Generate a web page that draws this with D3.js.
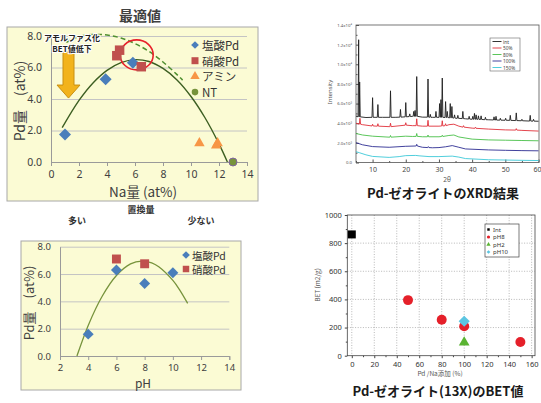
<!DOCTYPE html>
<html><head><meta charset="utf-8">
<script src="https://cdn.jsdelivr.net/npm/d3@7"></script>
<style>
body{margin:0;background:#fff;}
svg text{font-family:"Noto Sans CJK JP","Noto Sans",sans-serif;}
</style></head>
<body><svg id="c" width="541" height="403"></svg>
<script>
// ---------- Pd loading vs Na content ----------
const naHcl   = [[1.0,1.75],[3.9,5.25],[5.85,6.3]];
const naNit   = [[4.7,6.75],[4.9,7.1],[6.45,6.05]];
const naAmine = [[10.6,1.2],[11.8,1.05],[11.9,1.2]];
const naNT    = [[13.0,0.0]];
const naFit   = [[0.8,2.18],[2,3.91],[3,5.02],[4,5.82],[5,6.31],[6,6.5],[7,6.38],[8,5.94],[9,5.21],[10,4.16],[11,2.81],[12,1.15],[12.6,0]];
const naUpper = [[1.1,7.6],[2,7.97],[3,8.09],[4,8.06],[5,7.87],[6,7.52],[7,7.02],[8,6.35],[9,5.55],[9.4,5.2]];
const naTicks = [0,2,4,6,8,10,12,14];
const pdTicks = [0,2,4,6,8];
const optimum = [6.12,6.8];          // circled region
const amorphArrow = [1.25,6.98,4.06]; // x, top, tip

// ---------- Pd loading vs pH ----------
const phHcl  = [[4,1.6],[6,6.3],[8,5.3],[10,6.1]];
const phNit  = [[6,7.1],[8,6.75]];
const phFit  = [[3.2,0],[4,2.24],[5,4.39],[6,5.89],[7,6.74],[7.8,6.95],[8.5,6.82],[9,6.53],[10,5.53],[10.5,4.81],[11.05,3.85]];
const phTicks = [2,4,6,8,10,12,14];

// ---------- XRD patterns (intensity in 10^3 counts) ----------
const xrdNames  = ["int","50%","80%","100%","150%"];
const xrdColors = ["#1e1e1e","#e0303a","#48c048","#2c2c92","#3cc8d8"];
const xrdBase = [
  [[5,4.72],[8,4.58],[10,4.6],[13,4.6],[17,4.6],[20,4.65],[22,4.7],[25,4.62],[28,4.6],[30,4.6],[35,4.5],[38,4.45],[40,4.4],[45,4.35],[50,4.3],[55,4.25],[60,4.2]],
  [[5,4.0],[7,3.85],[10,3.72],[15,3.65],[20,3.8],[22,3.75],[25,3.7],[30,3.7],[33,3.85],[34.5,3.9],[36,3.7],[40,3.5],[45,3.4],[50,3.32],[55,3.27],[60,3.2]],
  [[5,2.95],[7,2.8],[10,2.68],[15,2.58],[20,2.68],[22,2.65],[25,2.62],[30,2.62],[33,2.75],[34.5,2.8],[36,2.6],[40,2.38],[45,2.3],[50,2.27],[55,2.24],[60,2.21]],
  [[5,2.02],[7,1.8],[10,1.62],[15,1.55],[20,1.65],[23,1.68],[25,1.55],[28,1.5],[30,1.52],[32,1.6],[34,1.72],[36,1.55],[38,1.38],[45,1.28],[50,1.24],[55,1.21],[60,1.19]],
  [[5,1.1],[6,1.0],[8,0.78],[10,0.62],[15,0.52],[18,0.6],[20,0.7],[23,0.72],[24,0.68],[27,0.6],[30,0.6],[34,0.65],[36,0.55],[38,0.4],[45,0.28],[50,0.25],[55,0.22],[60,0.2]]
];
// peaks: [2θ, foot, top]
const xrdPeaks = [
  [[5.8,4.65,12.5],[6.1,4.65,8.2],[10.0,4.6,6.6],[11.6,4.6,5.9],[15.4,4.6,7.3],[18.4,4.62,5.4],[20.0,4.65,6.1],[21.2,4.68,4.95],[22.4,4.7,5.2],[22.8,4.7,5.3],[23.3,4.7,8.75],[26.7,4.62,8.5],[27.4,4.6,4.9],[29.1,4.6,5.2],[30.2,4.6,6.0],[30.6,4.6,6.4],[31.0,4.6,8.6],[32.0,4.58,6.2],[32.5,4.58,5.2],[33.4,4.55,6.0],[33.9,4.55,5.7],[34.7,4.52,4.85],[35.7,4.5,4.8],[37.2,4.47,5.2],[39.1,4.42,4.7],[40.2,4.4,4.7],[40.7,4.4,5.0],[41.2,4.4,4.85],[41.9,4.39,4.75],[42.7,4.38,4.75],[44.0,4.36,4.6],[46.6,4.33,4.65],[47.2,4.32,4.7],[48.5,4.31,4.5],[50.1,4.3,4.5],[51.5,4.29,4.8],[53.3,4.27,5.05],[55.0,4.25,4.4],[57.5,4.22,4.8],[58.5,4.21,4.4]],
  [[6.2,3.9,4.5],[10.0,3.72,3.9],[11.6,3.7,3.95],[15.4,3.65,4.0],[20.0,3.8,4.05],[23.3,3.75,4.45],[26.7,3.7,4.3],[31.0,3.72,4.25],[32.0,3.75,3.95],[37.4,3.6,3.75],[41.0,3.48,3.6],[53.3,3.3,3.45]],
  [[15.4,2.58,2.75],[23.3,2.66,2.95],[26.7,2.62,2.8],[31.0,2.65,2.78]],
  [[23.3,1.68,1.85],[26.8,1.52,1.62]],
  []
];
const xrdTicksX = [10,20,30,40,50,60];
const xrdTicksY = [0,2,4,6,8,10,12,14];
const xrdTickLabels = ["0.0","2.0x10³","4.0x10³","6.0x10³","8.0x10³","1.0x10⁴","1.2x10⁴","1.4x10⁴"];

// ---------- BET surface area ----------
const betInt  = [[0,862]];
const betPH8  = [[50,395],[80,255],[100,210],[150,97]];
const betPH2  = [[100,95]];
const betPH10 = [[100,245]];
const betTicksX = [0,20,40,60,80,100,120,140,160];
const betTicksY = [0,200,400,600,800,1000];

const svg = d3.select("#c");
const sym = (t, s) => d3.symbol().type(t).size(s)();
const diamond = s => sym(d3.symbolSquare, s);

function styleAxis(g, col) {
  g.select(".domain").attr("stroke", col);
  g.selectAll(".tick line").attr("stroke", col);
}

// ================= Panel: Na vs Pd =================
{
  const g = svg.append("g");
  svg.append("text").attr("x",140).attr("y",21).attr("text-anchor","middle")
    .attr("font-size",14).attr("font-weight",700).attr("fill","#404040").text("最適値");
  g.append("rect").attr("x",7).attr("y",27).attr("width",251).attr("height",174)
    .attr("fill","#fbfbd4").attr("stroke","#a8a8a8");
  const x = d3.scaleLinear().domain([0,14]).range([51,247]);
  const y = d3.scaleLinear().domain([0,8]).range([162,36]);

  g.append("g").attr("transform","translate(51,0)")
    .call(d3.axisLeft(y).tickValues(pdTicks.slice(1)).tickSize(-196).tickFormat(""))
    .call(a => { a.select(".domain").remove(); a.selectAll("line").attr("stroke","#c4c4c4"); });
  const ya = g.append("g").attr("transform","translate(51,0)")
    .call(d3.axisLeft(y).tickValues(pdTicks).tickSize(0).tickPadding(9).tickFormat(d3.format(".1f")));
  styleAxis(ya,"#9a9a9a");
  ya.selectAll("text").attr("font-size",10.5).attr("fill","#404040").style("font-family","'Noto Sans',sans-serif");
  const xa = g.append("g").attr("transform","translate(0,162)")
    .call(d3.axisBottom(x).tickValues(naTicks).tickSize(4).tickPadding(5));
  styleAxis(xa,"#9a9a9a");
  xa.selectAll("text").attr("font-size",10.5).attr("fill","#404040").style("font-family","'Noto Sans',sans-serif");

  g.append("text").attr("x",143).attr("y",197).attr("text-anchor","middle")
    .attr("font-size",13.5).attr("fill","#404040").text("Na量 (at%)");
  g.append("text").attr("transform","translate(25,101) rotate(-90)").attr("text-anchor","middle")
    .attr("font-size",14).attr("fill","#404040").text("Pd量\u3000(at%)");

  const line = d3.line().x(d=>x(d[0])).y(d=>y(d[1])).curve(d3.curveCatmullRom);
  g.append("path").attr("d",line(naUpper)).attr("fill","none").attr("stroke","#4f8f2f")
    .attr("stroke-width",1.5).attr("stroke-dasharray","5,3");
  g.append("path").attr("d",line(naFit)).attr("fill","none").attr("stroke","#3d5f22").attr("stroke-width",1.4);

  // amorphisation arrow
  const [axc, aTop, aTip] = amorphArrow;
  const cx = x(axc), t = y(aTop), tip = y(aTip), neck = tip - 13;
  g.append("path").attr("d",`M${cx-5.5},${t}H${cx+5.5}V${neck}H${cx+11.5}L${cx},${tip}L${cx-11.5},${neck}H${cx-5.5}Z`)
    .attr("fill","#f2b31c").attr("stroke","#c98f10").attr("stroke-width",1);
  const note = g.append("g").attr("font-size",8).attr("font-weight",700).attr("fill","#222")
    .attr("text-anchor","middle").attr("stroke","#fff").attr("stroke-width",2.2)
    .attr("paint-order","stroke").attr("stroke-linejoin","round");
  note.append("text").attr("x",72).attr("y",41).text("アモルファス化");
  note.append("text").attr("x",72).attr("y",52).text("BET値低下");

  g.append("ellipse").attr("cx",x(optimum[0])).attr("cy",y(optimum[1])).attr("rx",16.5).attr("ry",15)
    .attr("fill","none").attr("stroke","#e8202a").attr("stroke-width",1.6);

  const pt = (data, path, fill, stroke, rot) => g.append("g").selectAll("path").data(data).join("path")
    .attr("d",path).attr("fill",fill).attr("stroke",stroke||"none")
    .attr("transform",d=>`translate(${x(d[0])},${y(d[1])})${rot?" rotate(45)":""}`);
  pt(naHcl, diamond(72), "#4a7ebb", null, true);
  pt(naNit, sym(d3.symbolSquare,90), "#c0504d");
  pt(naAmine, sym(d3.symbolTriangle,48), "#f79646");
  pt(naNT, sym(d3.symbolCircle,50), "#77933c", "#8064a2");

  const leg = [["塩酸Pd",diamond(30),"#4a7ebb",true],["硝酸Pd",sym(d3.symbolSquare,49),"#c0504d"],
               ["アミン",sym(d3.symbolTriangle,38),"#f79646"],["NT",sym(d3.symbolCircle,34),"#77933c"]];
  leg.forEach((e,i) => {
    const yy = 45 + i*15.7;
    g.append("path").attr("d",e[1]).attr("fill",e[2]).attr("transform",`translate(195,${yy})${e[3]?" rotate(45)":""}`);
    g.append("text").attr("x",202).attr("y",yy).attr("dominant-baseline","central")
      .attr("font-size",11.5).attr("fill","#333").text(e[0]);
  });
}

// ================= Panel: pH vs Pd =================
{
  const g = svg.append("g");
  const hdr = g.append("g").attr("font-size",9).attr("font-weight",700).attr("fill","#333").attr("text-anchor","middle");
  hdr.append("text").attr("x",141).attr("y",213).text("置換量");
  hdr.append("text").attr("x",77).attr("y",224).text("多い");
  hdr.append("text").attr("x",201).attr("y",224).text("少ない");

  g.append("rect").attr("x",21).attr("y",241).attr("width",220).attr("height",149)
    .attr("fill","#fbfbd4").attr("stroke","#a8a8a8");
  const x = d3.scaleLinear().domain([2,14]).range([60,229.3]);
  const y = d3.scaleLinear().domain([0,8]).range([356,246.7]);
  g.append("g").attr("transform","translate(60,0)")
    .call(d3.axisLeft(y).tickValues(pdTicks.slice(1)).tickSize(-169.3).tickFormat(""))
    .call(a => { a.select(".domain").remove(); a.selectAll("line").attr("stroke","#c4c4c4"); });
  const ya = g.append("g").attr("transform","translate(60,0)")
    .call(d3.axisLeft(y).tickValues(pdTicks).tickSize(0).tickPadding(9).tickFormat(d3.format(".1f")));
  styleAxis(ya,"#9a9a9a");
  ya.selectAll("text").attr("font-size",9.5).attr("fill","#404040").style("font-family","'Noto Sans',sans-serif");
  const xa = g.append("g").attr("transform","translate(0,356)")
    .call(d3.axisBottom(x).tickValues(phTicks).tickSize(4).tickPadding(4));
  styleAxis(xa,"#9a9a9a");
  xa.selectAll("text").attr("font-size",9.5).attr("fill","#404040").style("font-family","'Noto Sans',sans-serif");
  g.append("text").attr("x",143).attr("y",388).attr("text-anchor","middle")
    .attr("font-size",12).attr("fill","#404040").text("pH");
  g.append("text").attr("transform","translate(34,303) rotate(-90)").attr("text-anchor","middle")
    .attr("font-size",13).attr("fill","#404040").text("Pd量\u3000(at%)");

  const line = d3.line().x(d=>x(d[0])).y(d=>y(d[1])).curve(d3.curveCatmullRom);
  g.append("path").attr("d",line(phFit)).attr("fill","none").attr("stroke","#77933c").attr("stroke-width",1.3);

  g.append("g").selectAll("path").data(phHcl).join("path").attr("d",diamond(60)).attr("fill","#4a7ebb")
    .attr("transform",d=>`translate(${x(d[0])},${y(d[1])}) rotate(45)`);
  g.append("g").selectAll("path").data(phNit).join("path").attr("d",sym(d3.symbolSquare,80)).attr("fill","#c0504d")
    .attr("transform",d=>`translate(${x(d[0])},${y(d[1])})`);

  [["塩酸Pd",diamond(30),"#4a7ebb",true],["硝酸Pd",sym(d3.symbolSquare,42),"#c0504d"]].forEach((e,i) => {
    const yy = 255 + i*14;
    g.append("path").attr("d",e[1]).attr("fill",e[2]).attr("transform",`translate(186,${yy})${e[3]?" rotate(45)":""}`);
    g.append("text").attr("x",192).attr("y",yy).attr("dominant-baseline","central")
      .attr("font-size",10.5).attr("fill","#333").text(e[0]);
  });
}

// ================= Panel: XRD =================
{
  const g = svg.append("g");
  const x = d3.scaleLinear().domain([5,60]).range([356,538.5]);
  const y = d3.scaleLinear().domain([0,14]).range([162.5,25]);
  g.append("rect").attr("x",356).attr("y",25).attr("width",183).attr("height",137.5)
    .attr("fill","#fff").attr("stroke","#555").attr("stroke-width",0.8);

  const xa = g.append("g").attr("transform","translate(0,162.5)")
    .call(d3.axisBottom(x).tickValues(xrdTicksX).tickSize(-3).tickPadding(5));
  xa.select(".domain").remove();
  xa.selectAll("line").attr("stroke","#555");
  xa.selectAll("text").attr("font-size",7).attr("fill","#444").style("font-family","'Noto Sans',sans-serif");
  // last label sits against the page edge
  xa.selectAll("text").filter(d => d === 60).attr("text-anchor","end").attr("dx",2.4);
  g.append("g").attr("transform","translate(0,162.5)")
    .call(d3.axisBottom(x).tickValues([5,15,25,35,45,55]).tickSize(-1.5).tickFormat(""))
    .call(a => { a.select(".domain").remove(); a.selectAll("line").attr("stroke","#555"); });

  const ya = g.append("g").attr("transform","translate(356,0)")
    .call(d3.axisLeft(y).tickValues(xrdTicksY).tickSize(-3).tickPadding(4).tickFormat((d,i)=>xrdTickLabels[i]));
  ya.select(".domain").remove();
  ya.selectAll("line").attr("stroke","#555");
  ya.selectAll("text").attr("font-size",4.3).attr("fill","#555").style("font-family","'Noto Sans',sans-serif");
  g.append("g").attr("transform","translate(356,0)")
    .call(d3.axisLeft(y).tickValues([1,3,5,7,9,11,13]).tickSize(-1.5).tickFormat(""))
    .call(a => { a.select(".domain").remove(); a.selectAll("line").attr("stroke","#555"); });

  g.append("text").attr("transform","translate(332,92) rotate(-90)").attr("text-anchor","middle")
    .attr("font-size",6).attr("fill","#555").style("font-family","'Noto Sans',sans-serif").text("Intensity");
  g.append("text").attr("x",447).attr("y",182).attr("text-anchor","middle")
    .attr("font-size",6.5).attr("fill","#555").style("font-family","'Noto Sans',sans-serif").text("2θ");

  const w = 0.18;
  const line = d3.line().x(d=>x(d[0])).y(d=>y(d[1]));
  xrdBase.forEach((base, i) => {
    const peaks = xrdPeaks[i];
    const pts = base.filter(([px]) => !peaks.some(p => Math.abs(p[0]-px) < w + 0.05));
    peaks.forEach(([px,b,t]) => pts.push([px-w,b],[px,t],[px+w,b]));
    pts.sort((a,b)=>a[0]-b[0]);
    g.append("path").attr("d",line(pts)).attr("fill","none").attr("stroke",xrdColors[i])
      .attr("stroke-width",0.9).attr("stroke-linejoin","round");
  });

  g.append("rect").attr("x",490).attr("y",38).attr("width",30).attr("height",33)
    .attr("fill","#fff").attr("stroke","#666").attr("stroke-width",0.6);
  xrdNames.forEach((n,i) => {
    const yy = 41.5 + i*6.5;
    g.append("line").attr("x1",492.5).attr("x2",501.5).attr("y1",yy).attr("y2",yy)
      .attr("stroke",xrdColors[i]).attr("stroke-width",0.9);
    g.append("text").attr("x",503).attr("y",yy).attr("dominant-baseline","central")
      .attr("font-size",4.8).attr("fill","#444").style("font-family","'Noto Sans',sans-serif").text(n);
  });

  svg.append("text").attr("x",443).attr("y",198).attr("text-anchor","middle")
    .attr("font-size",13).attr("font-weight",700).attr("fill","#1a1a1a").text("Pd-ゼオライトのXRD結果");
}

// ================= Panel: BET =================
{
  const g = svg.append("g");
  const x = d3.scaleLinear().domain([-4,163]).range([347.3,535]);
  const y = d3.scaleLinear().domain([0,1000]).range([355.7,215]);
  g.append("rect").attr("x",347.3).attr("y",215).attr("width",187.7).attr("height",140.7)
    .attr("fill","#fff");
  // dotted grid
  g.append("g").selectAll("line").data(betTicksX).join("line")
    .attr("x1",d=>x(d)).attr("x2",d=>x(d)).attr("y1",215).attr("y2",355.7)
    .attr("stroke","#9a9a9a").attr("stroke-width",0.7).attr("stroke-dasharray","1,1.6");
  g.append("g").selectAll("line").data(betTicksY.slice(1,-1)).join("line")
    .attr("x1",347.3).attr("x2",535).attr("y1",d=>y(d)).attr("y2",d=>y(d))
    .attr("stroke","#9a9a9a").attr("stroke-width",0.7).attr("stroke-dasharray","1,1.6");
  g.append("rect").attr("x",347.3).attr("y",215).attr("width",187.7).attr("height",140.7)
    .attr("fill","none").attr("stroke","#444").attr("stroke-width",0.8);

  const xa = g.append("g").attr("transform","translate(0,355.7)")
    .call(d3.axisBottom(x).tickValues(betTicksX).tickSize(2.5).tickPadding(3).tickFormat(d3.format("d")));
  xa.select(".domain").remove();
  xa.selectAll("line").attr("stroke","#444");
  xa.selectAll("text").attr("font-size",7.5).attr("fill","#333").style("font-family","'Noto Sans',sans-serif");
  g.append("g").attr("transform","translate(0,355.7)")
    .call(d3.axisBottom(x).tickValues(betTicksX.slice(0,-1).map(d=>d+10)).tickSize(1.5).tickFormat(""))
    .call(a => { a.select(".domain").remove(); a.selectAll("line").attr("stroke","#444"); });
  const ya = g.append("g").attr("transform","translate(347.3,0)")
    .call(d3.axisLeft(y).tickValues(betTicksY).tickSize(2.5).tickPadding(3).tickFormat(d3.format("d")));
  ya.select(".domain").remove();
  ya.selectAll("line").attr("stroke","#444");
  ya.selectAll("text").attr("font-size",7.5).attr("fill","#333").style("font-family","'Noto Sans',sans-serif");
  g.append("g").attr("transform","translate(347.3,0)")
    .call(d3.axisLeft(y).tickValues([100,300,500,700,900]).tickSize(1.5).tickFormat(""))
    .call(a => { a.select(".domain").remove(); a.selectAll("line").attr("stroke","#444"); });

  g.append("text").attr("x",440).attr("y",376).attr("text-anchor","middle")
    .attr("font-size",6.5).attr("fill","#555").text("Pd /Na添加 (%)");
  g.append("text").attr("transform","translate(320,285) rotate(-90)").attr("text-anchor","middle")
    .attr("font-size",6.5).attr("fill","#555").text("BET (m2/g)");

  const put = (data, path, fill, rot) => g.append("g").selectAll("path").data(data).join("path")
    .attr("d",path).attr("fill",fill)
    .attr("transform",d=>`translate(${x(d[0])},${y(d[1])})${rot?" rotate(45)":""}`);
  put(betInt, sym(d3.symbolSquare,64), "#000");
  put(betPH8, sym(d3.symbolCircle,78), "#e5202a");
  put(betPH2, sym(d3.symbolTriangle,50), "#5ab432");
  put(betPH10, diamond(62), "#5cc6e2", true);

  g.append("rect").attr("x",485).attr("y",224).attr("width",34).attr("height",33)
    .attr("fill","#fff").attr("stroke","#444").attr("stroke-width",0.7);
  [["Int",sym(d3.symbolSquare,6),"#000"],["pH8",sym(d3.symbolCircle,8),"#e5202a"],
   ["pH2",sym(d3.symbolTriangle,8),"#5ab432"],["pH10",diamond(7),"#5cc6e2",true]].forEach((e,i) => {
    const yy = 229.5 + i*7.5;
    g.append("path").attr("d",e[1]).attr("fill",e[2]).attr("transform",`translate(488.5,${yy})${e[3]?" rotate(45)":""}`);
    g.append("text").attr("x",493).attr("y",yy).attr("dominant-baseline","central")
      .attr("font-size",6).attr("fill","#333").style("font-family","'Noto Sans',sans-serif").text(e[0]);
  });

  svg.append("text").attr("x",438).attr("y",396).attr("text-anchor","middle")
    .attr("font-size",13).attr("font-weight",700).attr("fill","#1a1a1a").text("Pd-ゼオライト(13X)のBET値");
}
</script>
</body></html>
